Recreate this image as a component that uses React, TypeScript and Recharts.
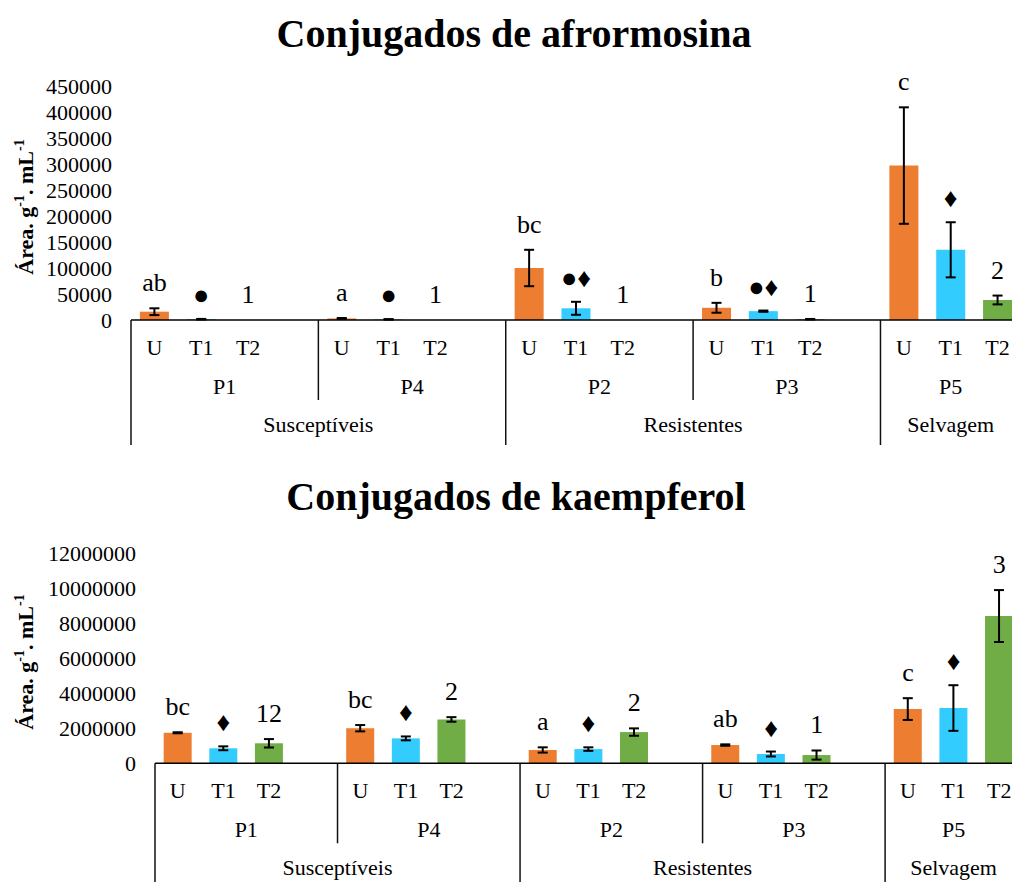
import React from 'react';
import { ComposedChart, Bar, Cell, ErrorBar, Line, LabelList, XAxis, YAxis } from 'recharts';

const SERIF = '"Liberation Serif", "Times New Roman", serif';

const groups = ['P1', 'P4', 'P2', 'P3', 'P5'];
const treatments = ['U', 'T1', 'T2'];
const families = ['Susceptíveis', 'Resistentes', 'Selvagem'];
const familyOfGroup = [0, 0, 1, 1, 2];
const treatmentColors = ['#ED7D31', '#33CCFF', '#70AD47'];

// afrormosina conjugates, one [U, T1, T2] triple per plant group
const afroMean = [
  [16000, 1500, 0],
  [3000, 1200, 0],
  [100000, 22500, 0],
  [23500, 17000, 1500],
  [297000, 135000, 38500],
];
const afroErr = [
  [6500, 600, 0],
  [800, 500, 0],
  [35000, 12500, 0],
  [9500, 1200, 500],
  [112000, 53000, 8500],
];
const afroMarks = [
  ['ab', '●', '1'],
  ['a', '●', '1'],
  ['bc', '●♦', '1'],
  ['b', '●♦', '1'],
  ['c', '♦', '2'],
];
const afroTicks = [0, 50000, 100000, 150000, 200000, 250000, 300000, 350000, 400000, 450000];

// kaempferol conjugates
const kaemMean = [
  [1740000, 855000, 1140000],
  [2000000, 1420000, 2500000],
  [760000, 810000, 1780000],
  [1040000, 530000, 470000],
  [3090000, 3150000, 8390000],
];
const kaemErr = [
  [30000, 110000, 240000],
  [180000, 110000, 130000],
  [150000, 100000, 210000],
  [40000, 140000, 260000],
  [620000, 1300000, 1480000],
];
const kaemMarks = [
  ['bc', '♦', '12'],
  ['bc', '♦', '2'],
  ['a', '♦', '2'],
  ['ab', '♦', '1'],
  ['c', '♦', '3'],
];
const kaemTicks = [0, 2000000, 4000000, 6000000, 8000000, 10000000, 12000000];

type Row = {
  id: string;
  treatment: string;
  group: number;
  value: number | null;
  err: number | null;
  top: number | null;
  mark: string;
  fill: string;
};

function buildRows(mean: number[][], err: number[][], marks: string[][]): Row[] {
  const rows: Row[] = [];
  groups.forEach((g, gi) => {
    treatments.forEach((t, ti) => {
      rows.push({
        id: `${g}-${t}`,
        treatment: t,
        group: gi,
        value: mean[gi][ti],
        err: err[gi][ti],
        top: mean[gi][ti] + err[gi][ti],
        mark: marks[gi][ti],
        fill: treatmentColors[ti],
      });
    });
    // empty slot between groups
    if (gi < groups.length - 1) {
      rows.push({ id: `${g}-gap`, treatment: '', group: gi, value: null, err: null, top: null, mark: '', fill: 'none' });
    }
  });
  return rows;
}

const afroRows = buildRows(afroMean, afroErr, afroMarks);
const kaemRows = buildRows(kaemMean, kaemErr, kaemMarks);

const makeTick = (rows: Row[]) => (props: any) => {
  const { x, y, payload } = props;
  const index = payload.index;
  const row = rows[index];
  if (!row) return null;
  const half = payload.offset || 23;
  const left = x - half;
  const textStyle = { fontFamily: SERIF, fontSize: 22, fill: '#000' };
  const groupStart = index === 0 || rows[index - 1].group !== row.group;
  const fam = familyOfGroup[row.group];
  const famStart = groupStart && (row.group === 0 || familyOfGroup[row.group - 1] !== fam);
  const groupSpan = rows.filter(r => r.group === row.group).length;
  const famSpan = rows.filter(r => familyOfGroup[r.group] === fam).length;
  return (
    <g>
      <text x={x} y={y + 35} textAnchor="middle" style={textStyle}>{row.treatment}</text>
      {groupStart && (
        <>
          <line x1={left} x2={left} y1={y} y2={y + (famStart ? 125 : 80)} stroke="#111" strokeWidth={1.5} />
          <text x={left + groupSpan * half} y={y + 74} textAnchor="middle" style={textStyle}>{groups[row.group]}</text>
        </>
      )}
      {famStart && (
        <text x={left + famSpan * half} y={y + 112} textAnchor="middle" style={textStyle}>{families[fam]}</text>
      )}
    </g>
  );
};

const renderMark = (props: any) => {
  const { x, y, value } = props;
  if (!value || y == null || Number.isNaN(y)) return null;
  const symbolic = /[●♦]/.test(String(value));
  return (
    <text
      x={x}
      y={symbolic ? y - 15 : y - 17}
      textAnchor="middle"
      style={{ fontFamily: SERIF, fontSize: symbolic ? 27 : 26, fill: '#000' }}
    >
      {value}
    </text>
  );
};

const AxisTitle = (props: any) => {
  const { viewBox } = props;
  const cx = viewBox.x + 33;
  const cy = viewBox.y + viewBox.height / 2 + 4;
  return (
    <text
      transform={`translate(${cx}, ${cy}) rotate(-90)`}
      textAnchor="middle"
      style={{ fontFamily: SERIF, fontSize: 22, fontWeight: 'bold', fill: '#000' }}
    >
      Área. g<tspan dy={-9} fontSize={14}>-1</tspan>
      <tspan dy={9}>. mL</tspan>
      <tspan dy={-9} fontSize={14}>-1</tspan>
    </text>
  );
};

type PanelProps = {
  rows: Row[];
  ticks: number[];
  width: number;
  height: number;
  top: number;
  axisWidth: number;
  plotHeight: number;
};

const Panel = ({ rows, ticks, width, height, top, axisWidth, plotHeight }: PanelProps) => (
  <ComposedChart
    width={width}
    height={height}
    data={rows}
    margin={{ top, right: 1, left: 0, bottom: 0 }}
    barCategoryGap="19%"
  >
    <XAxis
      dataKey="id"
      type="category"
      interval={0}
      tickSize={0}
      tickMargin={0}
      tickLine={false}
      axisLine={{ stroke: '#000', strokeWidth: 1.5 }}
      height={height - top - plotHeight}
      tick={makeTick(rows)}
    />
    <YAxis
      type="number"
      domain={[ticks[0], ticks[ticks.length - 1]]}
      ticks={ticks}
      interval={0}
      width={axisWidth}
      axisLine={false}
      tickLine={false}
      tickSize={0}
      tickMargin={19}
      tick={{ fill: '#000', fontSize: 22, fontFamily: SERIF }}
      label={{ content: AxisTitle }}
    />
    <Bar dataKey="value" isAnimationActive={false}>
      {rows.map(r => (
        <Cell key={r.id} fill={r.fill} />
      ))}
      <ErrorBar dataKey="err" width={5} stroke="#000" strokeWidth={2} />
    </Bar>
    <Line
      dataKey="top"
      type="linear"
      stroke="none"
      dot={false}
      activeDot={false}
      isAnimationActive={false}
    >
      <LabelList dataKey="mark" content={renderMark} />
    </Line>
  </ComposedChart>
);

export default function App() {
  return (
    <div
      style={{
        position: 'absolute',
        left: 0,
        top: 0,
        width: 1012,
        height: 882,
        overflow: 'hidden',
        background: '#fff',
      }}
    >
      <svg width={1012} height={882} style={{ position: 'absolute', left: 0, top: 0 }}>
        <text x={514} y={47} textAnchor="middle" style={{ fontFamily: SERIF, fontSize: 40, fontWeight: 'bold' }}>
          Conjugados de afrormosina
        </text>
        <text x={516} y={510} textAnchor="middle" style={{ fontFamily: SERIF, fontSize: 40, fontWeight: 'bold' }}>
          Conjugados de kaempferol
        </text>
      </svg>
      <div style={{ position: 'absolute', left: 0, top: 0 }}>
        <Panel rows={afroRows} ticks={afroTicks} width={1022} height={445} top={86} axisWidth={131} plotHeight={234} />
      </div>
      <div style={{ position: 'absolute', left: 0, top: 450 }}>
        <Panel rows={kaemRows} ticks={kaemTicks} width={1023} height={440} top={102.7} axisWidth={155} plotHeight={210.6} />
      </div>
    </div>
  );
}
